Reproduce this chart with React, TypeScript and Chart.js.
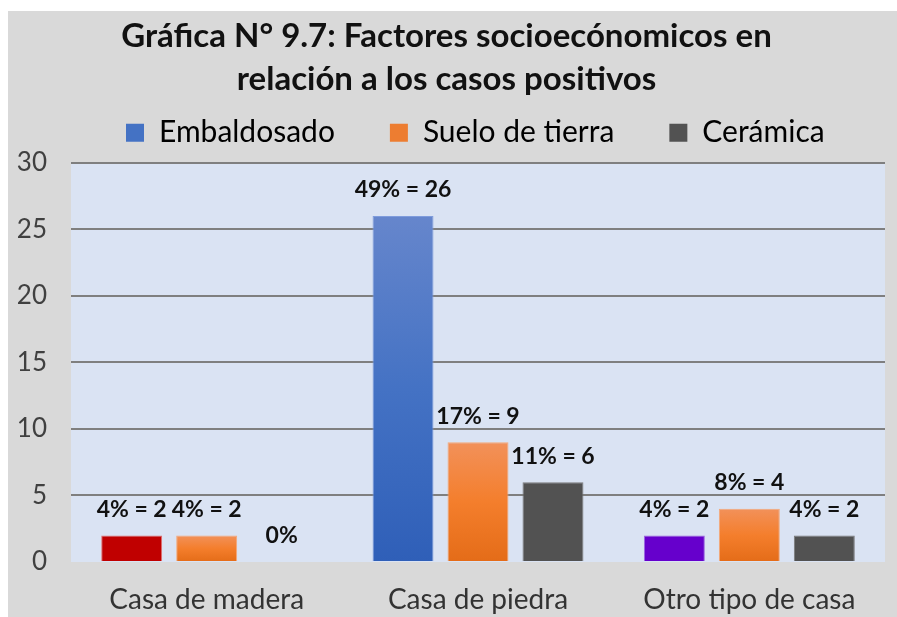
import React, { useEffect, useRef } from "react";
import { Chart, registerables } from "chart.js";

Chart.register(...registerables);

const categories = ["Casa de madera", "Casa de piedra", "Otro tipo de casa"];
const seriesNames = ["Embaldosado", "Suelo de tierra", "Cerámica"];
const embaldosado = [2, 26, 2];
const sueloTierra = [2, 9, 4];
const ceramica = [0, 6, 2];
const embaldosadoPct = [4, 49, 4];
const sueloTierraPct = [4, 17, 8];
const ceramicaPct = [0, 11, 4];
const yTicks = [0, 5, 10, 15, 20, 25, 30];
const titleLines = ["Gráfica N° 9.7: Factores socioecónomicos en", "relación a los casos positivos"];

const FONT = "Lato, 'Open Sans', sans-serif";
const W = 889;
const H = 606;

function vGrad(ctx: any, top: number, bottom: number, stops: [number, string][]) {
  const g = ctx.createLinearGradient(0, top, 0, bottom);
  stops.forEach(([o, c]) => g.addColorStop(o, c));
  return g;
}

function barGradient(context: any, stops: [number, string][], fallback: string) {
  const chart = context.chart;
  const y = chart.scales?.y;
  if (!y || context.raw == null) return fallback;
  const top = y.getPixelForValue(context.raw);
  const bottom = y.getPixelForValue(0);
  if (!(bottom > top)) return fallback;
  return vGrad(chart.ctx, top, bottom, stops);
}

const BLUE_STOPS: [number, string][] = [
  [0, "#6686cc"],
  [0.5, "#4472c4"],
  [1, "#2f5fb8"],
];
const ORANGE_STOPS: [number, string][] = [
  [0, "#f2915a"],
  [0.5, "#f47e2c"],
  [1, "#e46c18"],
];

const plotBg = {
  id: "plotBg",
  beforeDraw(chart: any) {
    const { ctx, chartArea } = chart;
    if (!chartArea) return;
    ctx.save();
    ctx.fillStyle = "#dae3f3";
    ctx.fillRect(chartArea.left, chartArea.top, chartArea.right - chartArea.left, chartArea.bottom - chartArea.top);
    ctx.restore();
  },
};

const legendHeight = {
  id: "legendHeight",
  beforeLayout(chart: any) {
    const lg = chart.legend;
    if (lg && !lg._patched) {
      const orig = lg.fit.bind(lg);
      lg.fit = function () {
        orig();
        this.height = 100;
      };
      lg._patched = true;
    }
  },
};

const pctArrays = [embaldosadoPct, sueloTierraPct, ceramicaPct];

const dataLabels = {
  id: "dataLabels",
  afterDatasetsDraw(chart: any) {
    const { ctx } = chart;
    ctx.save();
    ctx.font = `bold 23px ${FONT}`;
    ctx.fillStyle = "#111111";
    ctx.textAlign = "center";
    ctx.textBaseline = "middle";
    chart.data.datasets.forEach((ds: any, di: number) => {
      const meta = chart.getDatasetMeta(di);
      meta.data.forEach((el: any, i: number) => {
        const v = ds.data[i];
        const p = pctArrays[di][i];
        const txt = v === 0 ? `${p}%` : `${p}% = ${v}`;
        ctx.fillText(txt, el.x, el.y - 26);
      });
    });
    ctx.restore();
  },
};

export default function App() {
  const ref = useRef<HTMLCanvasElement | null>(null);
  useEffect(() => {
    if (!ref.current) return;
    const chart = new Chart(ref.current, {
      type: "bar",
      data: {
        labels: categories,
        datasets: [
          {
            label: seriesNames[0],
            data: embaldosado,
            backgroundColor: (c: any) => {
              if (c.type !== "data") return "#4472c4";
              if (c.dataIndex === 0) return "#c00000";
              if (c.dataIndex === 2) return "#6600cc";
              return barGradient(c, BLUE_STOPS, "#4472c4");
            },
            borderColor: (c: any) => {
              if (c.type !== "data") return "#4472c4";
              if (c.dataIndex === 0) return "#e07070";
              if (c.dataIndex === 2) return "#9a66e0";
              return "#7f9cdc";
            },
            borderWidth: 1,
          },
          {
            label: seriesNames[1],
            data: sueloTierra,
            backgroundColor: (c: any) =>
              c.type !== "data" ? "#ed7d31" : barGradient(c, ORANGE_STOPS, "#ed7d31"),
            borderColor: "#f5a878",
            borderWidth: 1,
          },
          {
            label: seriesNames[2],
            data: ceramica,
            backgroundColor: "#525252",
            borderColor: "#7a7a7a",
            borderWidth: 1,
          },
        ],
      },
      options: {
        animation: false,
        responsive: false,
        maintainAspectRatio: false,
        layout: { padding: { top: 0, left: 0, right: 12, bottom: 0 } },
        datasets: {
          bar: { categoryPercentage: 0.829, barPercentage: 0.813 },
        },
        plugins: {
          title: {
            display: true,
            text: titleLines,
            color: "#111111",
            font: { family: FONT, size: 33, weight: "bold", lineHeight: 1.3 },
            padding: { top: 4, bottom: -38 },
          },
          legend: {
            display: true,
            position: "top",
            align: "start",
            fullSize: false,
            labels: {
              color: "#262626",
              font: { family: FONT, size: 30 },
              boxWidth: 18,
              boxHeight: 18,
              padding: 55,
              generateLabels: () =>
                seriesNames.map((n, i) => ({
                  text: n,
                  fillStyle: ["#4472c4", "#ed7d31", "#525252"][i],
                  strokeStyle: ["#4472c4", "#ed7d31", "#525252"][i],
                  lineWidth: 0,
                  datasetIndex: i,
                  hidden: false,
                })),
            },
          },
          tooltip: { enabled: false },
        },
        scales: {
          x: {
            grid: { display: false, drawTicks: false },
            border: { display: false },
            ticks: {
              color: "#333333",
              font: { family: FONT, size: 28 },
              padding: 21,
            },
            afterFit: (s: any) => {
              s.height = 55;
            },
          },
          y: {
            min: 0,
            max: 30,
            afterBuildTicks: (s: any) => {
              s.ticks = yTicks.map((v) => ({ value: v }));
            },
            grid: {
              color: (c: any) => (c.tick && c.tick.value === 0 ? "rgba(0,0,0,0)" : "#7f7f7f"),
              lineWidth: 2,
              drawTicks: false,
            },
            border: { display: false },
            ticks: {
              color: "#404040",
              font: { family: FONT, size: 26 },
              padding: 24,
            },
            afterFit: (s: any) => {
              s.width = 63;
            },
          },
        },
      },
      plugins: [plotBg, legendHeight, dataLabels],
    });
    return () => chart.destroy();
  }, []);
  return (
    <div
      style={{
        position: "absolute",
        left: 8,
        top: 11,
        width: W,
        height: H,
        background: "#d9d9d9",
      }}
    >
      <canvas ref={ref} width={W} height={H} style={{ display: "block", width: W, height: H }} />
    </div>
  );
}
